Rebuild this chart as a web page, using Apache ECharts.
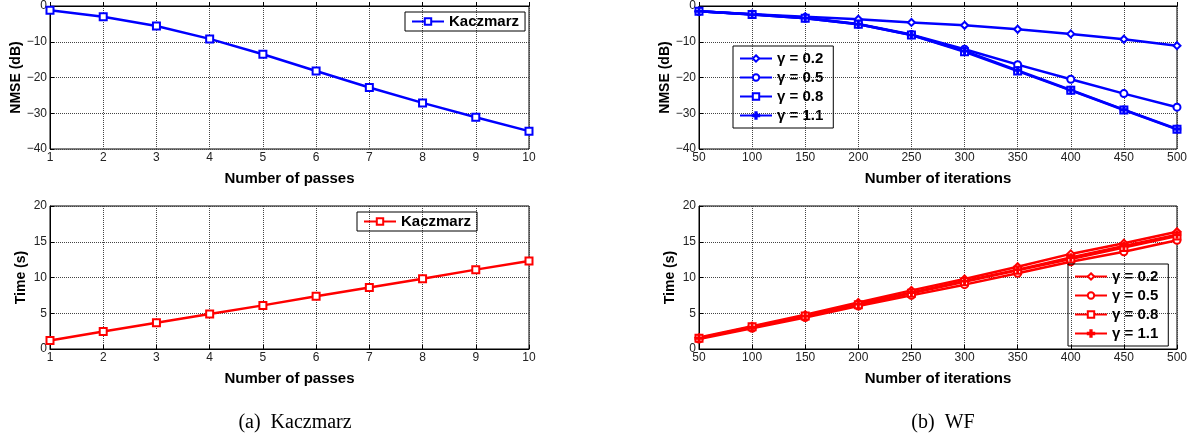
<!DOCTYPE html>
<html>
<head>
<meta charset="utf-8">
<script src="https://cdn.jsdelivr.net/npm/echarts@6/dist/echarts.min.js"></script>
<style>
  html, body { margin: 0; padding: 0; background: #fff; }
  #chart { width: 1190px; height: 438px; }
</style>
</head>
<body>
<div id="chart"></div>
<script>

// data
var passes = [1, 2, 3, 4, 5, 6, 7, 8, 9, 10];
var kaczNmse = [-1.2, -3.0, -5.6, -9.2, -13.5, -18.2, -22.8, -27.1, -31.1, -35.0];
var kaczTime = [1.2, 2.45, 3.68, 4.9, 6.1, 7.37, 8.6, 9.83, 11.1, 12.3];

var iterations = [50, 100, 150, 200, 250, 300, 350, 400, 450, 500];
var gammas = ['γ = 0.2', 'γ = 0.5', 'γ = 0.8', 'γ = 1.1'];
var wfNmse02 = [-1.5, -2.3, -3.0, -3.7, -4.6, -5.4, -6.5, -7.8, -9.3, -11.1];
var wfNmse05 = [-1.5, -2.3, -3.3, -5.0, -8.0, -12.1, -16.4, -20.5, -24.5, -28.3];
var wfNmse08 = [-1.5, -2.4, -3.4, -5.1, -8.1, -12.8, -18.2, -23.6, -29.1, -34.5];
var wfNmse11 = [-1.5, -2.4, -3.4, -5.1, -8.1, -12.6, -18.0, -23.5, -29.0, -34.4];
var wfTime02 = [1.6, 3.2, 4.8, 6.5, 8.2, 9.8, 11.5, 13.3, 14.8, 16.4];
var wfTime05 = [1.4, 2.9, 4.4, 6.0, 7.5, 9.0, 10.6, 12.2, 13.6, 15.2];
var wfTime08 = [1.5, 3.1, 4.6, 6.2, 7.8, 9.4, 11.0, 12.6, 14.2, 15.8];
var wfTime11 = [1.5, 3.0, 4.6, 6.3, 7.9, 9.5, 11.1, 12.8, 14.4, 16.0];

var BLUE = '#0000ff';
var RED = '#ff0000';
var plusPath = 'path://M4,0H6V4H10V6H6V10H4V6H0V4H4Z';
var markers = ['emptyDiamond', 'emptyCircle', 'emptyRect', plusPath];

var myChart = echarts.init(document.getElementById('chart'));

function minus(v) {
	return String(v).replace('-', '\u2212');
}

function xAxisFor(idx, min, max, interval, name) {
	return {
		type: 'value', gridIndex: idx, min: min, max: max, interval: interval,
		name: name, nameLocation: 'middle', nameGap: 22,
		nameTextStyle: { fontFamily: 'Liberation Sans', fontWeight: 'bold', fontSize: 15, color: '#000' },
		axisLine: { lineStyle: { color: '#000', width: 1 } },
		axisTick: { inside: true, length: 4, lineStyle: { color: '#000' } },
		axisLabel: { fontFamily: 'Liberation Sans', fontSize: 12, color: '#222', margin: 3 },
		splitLine: { show: true, lineStyle: { type: 'dotted', color: '#444', width: 1 } }
	};
}

function yAxisFor(idx, min, max, interval, name) {
	return {
		type: 'value', gridIndex: idx, min: min, max: max, interval: interval,
		name: name, nameLocation: 'middle', nameGap: 22,
		nameTextStyle: { fontFamily: 'Liberation Sans', fontWeight: 'bold', fontSize: 14, color: '#000' },
		axisLine: { show: true, lineStyle: { color: '#000', width: 1 } },
		axisTick: { show: true, inside: true, length: 4, lineStyle: { color: '#000' } },
		axisLabel: { fontFamily: 'Liberation Sans', fontSize: 12, color: '#222', margin: 3, formatter: minus },
		splitLine: { show: true, lineStyle: { type: 'dotted', color: '#444', width: 1 } }
	};
}

function lineSeries(name, idx, xs, ys, color, symbol) {
	return {
		name: name, type: 'line', xAxisIndex: idx, yAxisIndex: idx,
		data: xs.map(function (x, i) { return [x, ys[i]]; }),
		symbol: symbol, symbolSize: 7,
		lineStyle: { color: color, width: 2.5 },
		itemStyle: { color: color, borderColor: color, borderWidth: 1.5 },
		animation: false
	};
}

var legendText = { fontFamily: 'Liberation Sans', fontWeight: 'bold', fontSize: 15, color: '#000' };
function stripPrefix(name) { return name.replace(/^\S+ /, ''); }

var series = [
	lineSeries('A Kaczmarz', 0, passes, kaczNmse, BLUE, 'emptyRect'),
	lineSeries('B Kaczmarz', 1, passes, kaczTime, RED, 'emptyRect')
];
var wfN = [wfNmse02, wfNmse05, wfNmse08, wfNmse11];
var wfT = [wfTime02, wfTime05, wfTime08, wfTime11];
gammas.forEach(function (g, i) {
	series.push(lineSeries('C ' + g, 2, iterations, wfN[i], BLUE, markers[i]));
});
gammas.forEach(function (g, i) {
	series.push(lineSeries('D ' + g, 3, iterations, wfT[i], RED, markers[i]));
});

var option = {
	backgroundColor: '#fff',
	animation: false,
	grid: [
		{ left: 50, right: 661, top: 6, bottom: 289, show: true, borderColor: '#000', borderWidth: 1 },
		{ left: 50, right: 661, top: 206, bottom: 89, show: true, borderColor: '#000', borderWidth: 1 },
		{ left: 699, right: 13, top: 6, bottom: 289, show: true, borderColor: '#000', borderWidth: 1 },
		{ left: 699, right: 13, top: 206, bottom: 89, show: true, borderColor: '#000', borderWidth: 1 }
	],
	xAxis: [
		xAxisFor(0, 1, 10, 1, 'Number of passes'),
		xAxisFor(1, 1, 10, 1, 'Number of passes'),
		xAxisFor(2, 50, 500, 50, 'Number of iterations'),
		xAxisFor(3, 50, 500, 50, 'Number of iterations')
	],
	yAxis: [
		yAxisFor(0, -40, 0, 10, 'NMSE (dB)'),
		yAxisFor(1, 0, 20, 5, 'Time (s)'),
		yAxisFor(2, -40, 0, 10, 'NMSE (dB)'),
		yAxisFor(3, 0, 20, 5, 'Time (s)')
	],
	legend: [
		{
			data: ['A Kaczmarz'], left: 405, top: 12, orient: 'vertical',
			borderColor: '#000', borderWidth: 1, padding: [2, 6, 2, 6],
			itemWidth: 32, itemHeight: 8, formatter: stripPrefix, textStyle: legendText
		},
		{
			data: ['B Kaczmarz'], left: 357, top: 212, orient: 'vertical',
			borderColor: '#000', borderWidth: 1, padding: [2, 6, 2, 6],
			itemWidth: 32, itemHeight: 8, formatter: stripPrefix, textStyle: legendText
		},
		{
			data: gammas.map(function (g) { return 'C ' + g; }), left: 733, top: 46, orient: 'vertical',
			borderColor: '#000', borderWidth: 1, padding: [5, 10, 5, 6], itemGap: 4,
			itemWidth: 32, itemHeight: 8, formatter: stripPrefix, textStyle: legendText
		},
		{
			data: gammas.map(function (g) { return 'D ' + g; }), left: 1068, top: 264, orient: 'vertical',
			borderColor: '#000', borderWidth: 1, padding: [5, 10, 5, 6], itemGap: 4,
			itemWidth: 32, itemHeight: 8, formatter: stripPrefix, textStyle: legendText
		}
	],
	title: [
		{ text: '(a)  Kaczmarz', left: 290, top: 408, textAlign: 'center',
		  textStyle: { fontFamily: 'Liberation Serif', fontWeight: 'normal', fontSize: 20, color: '#000' } },
		{ text: '(b)  WF', left: 938, top: 408, textAlign: 'center',
		  textStyle: { fontFamily: 'Liberation Serif', fontWeight: 'normal', fontSize: 20, color: '#000' } }
	],
	series: series
};

myChart.setOption(option);

</script>
</body>
</html>
